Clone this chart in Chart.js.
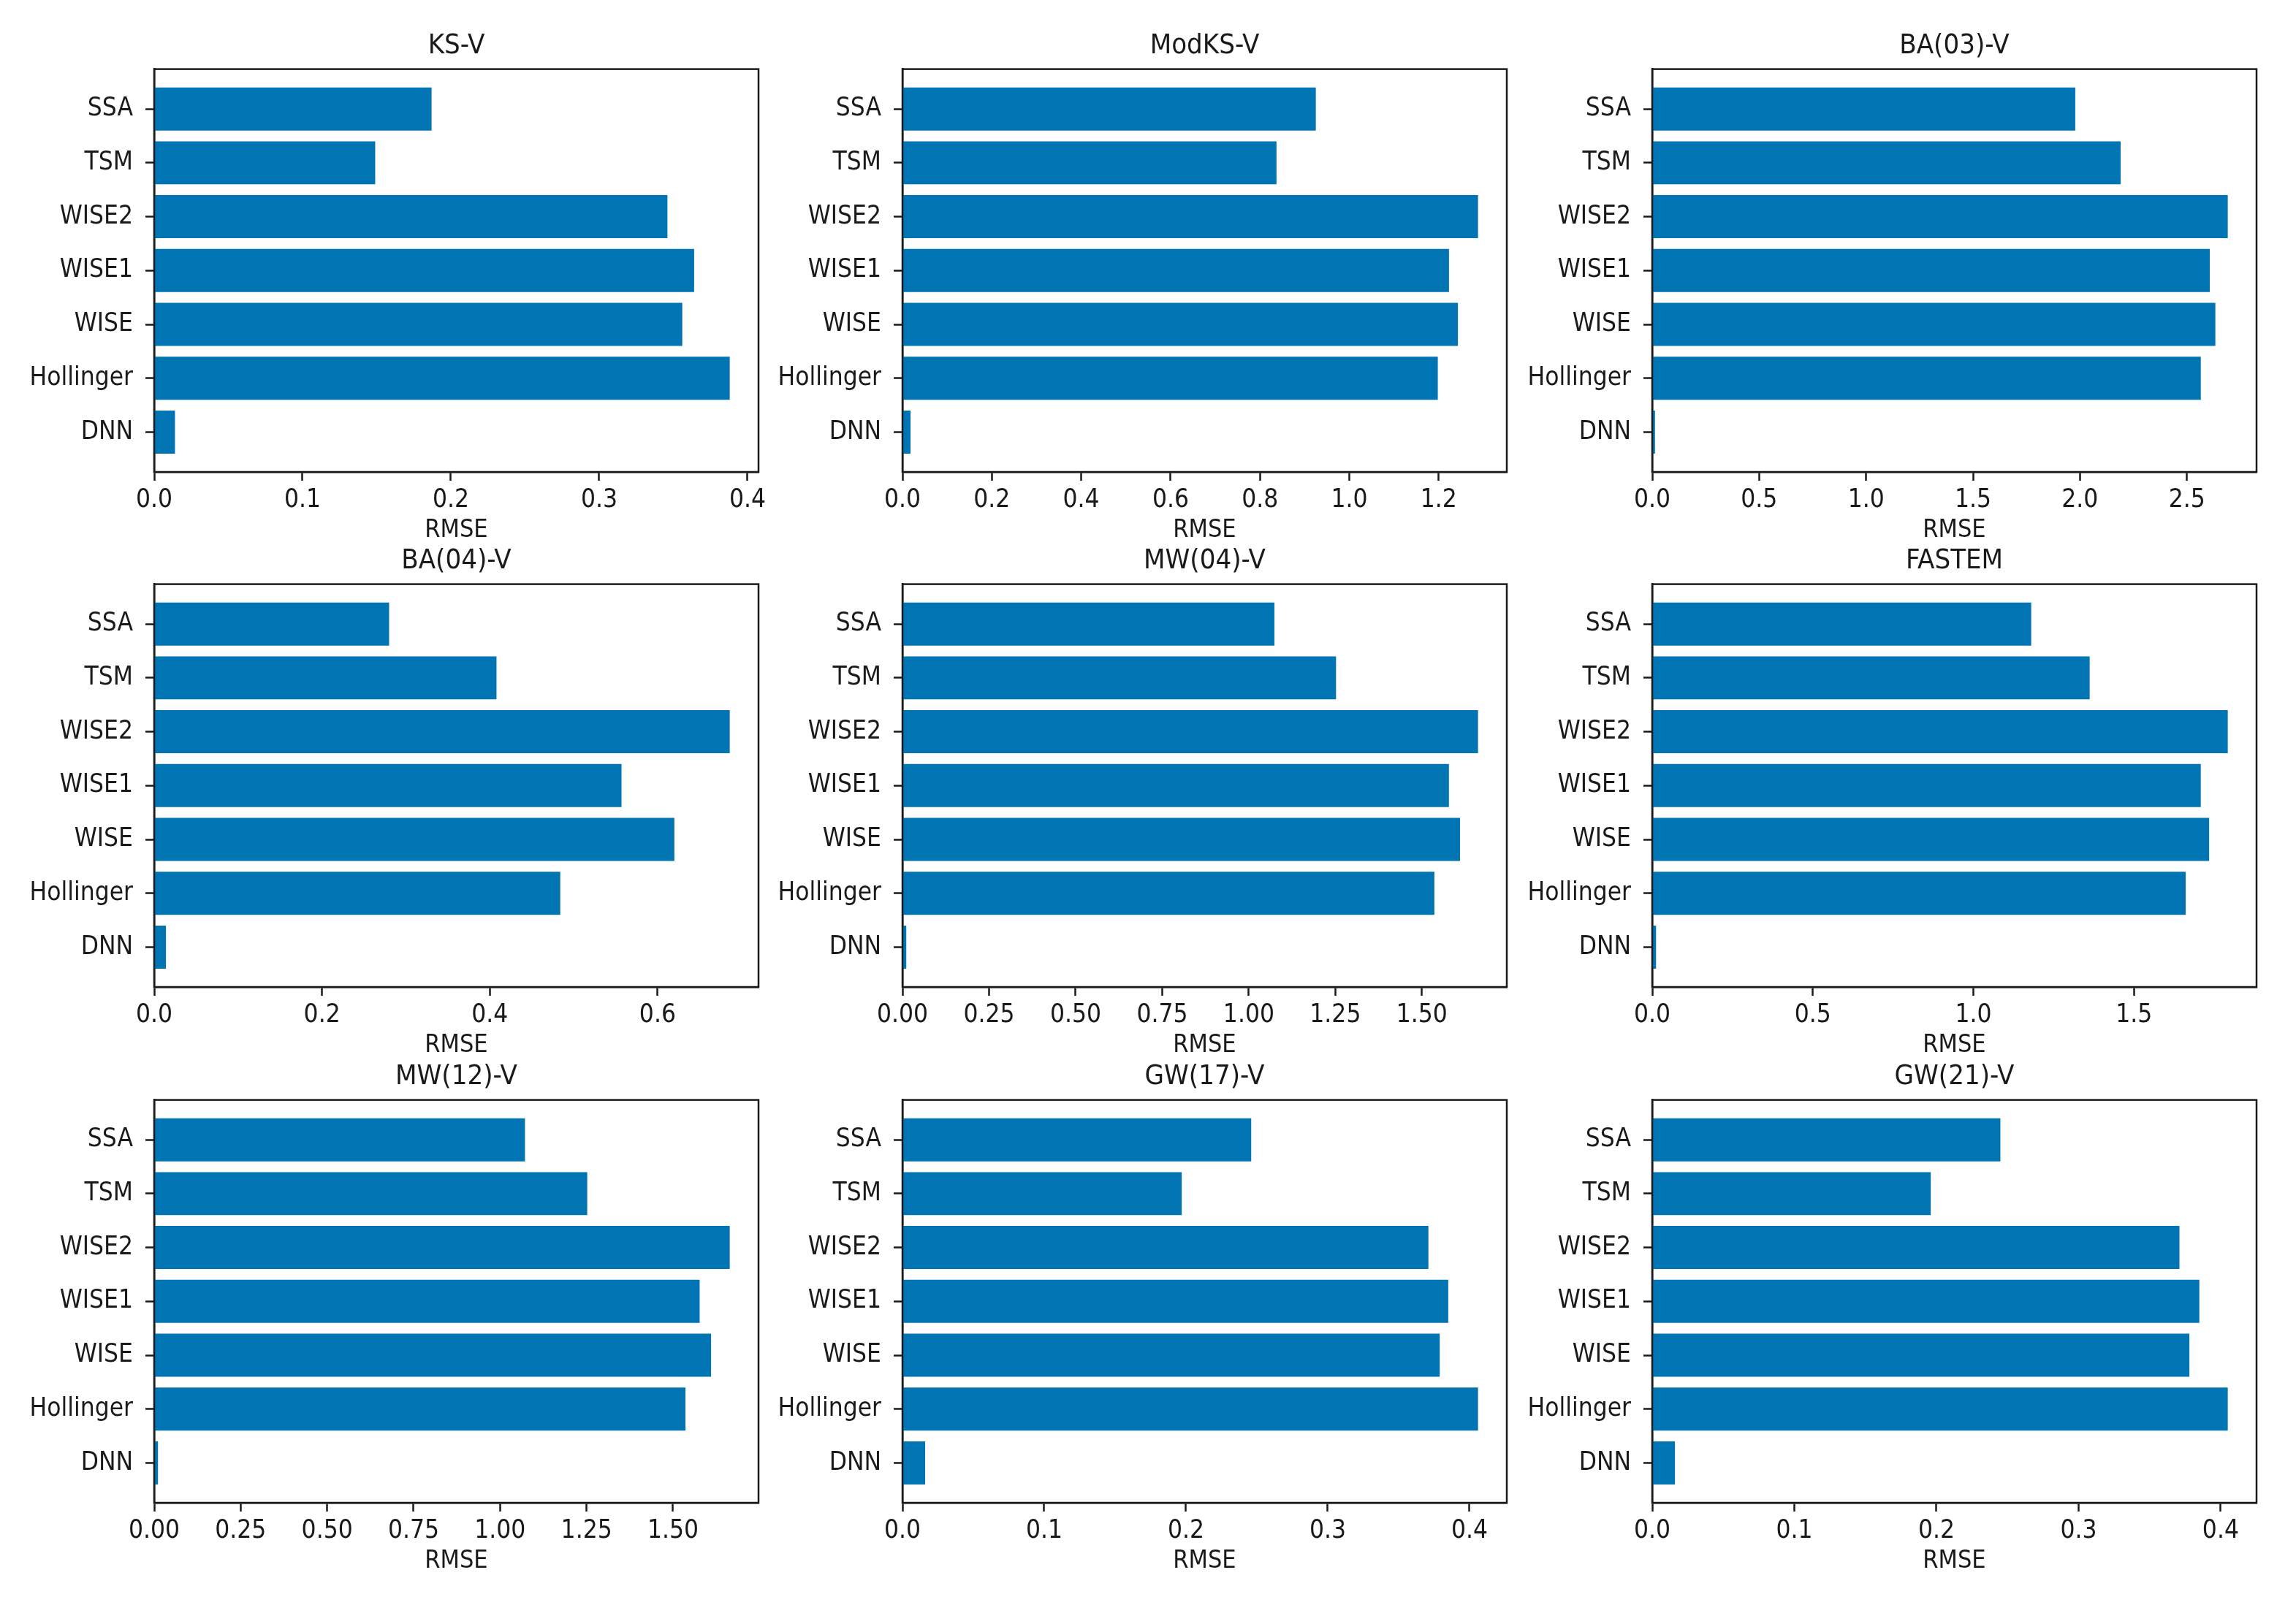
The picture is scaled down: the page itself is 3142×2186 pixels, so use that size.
<!DOCTYPE html>
<html>
<head>
<meta charset="utf-8">
<script src="https://cdn.jsdelivr.net/npm/chart.js@4.4.1/dist/chart.umd.min.js"></script>
<style>
    body { margin: 0; background: #fff; width: 3142px; height: 2186px; position: relative; overflow: hidden; }
    .panel { position: absolute; }
</style>
</head>
<body>
<div id="grid"></div>
<script>
// Categories, bottom (index 0) to top, same order as matplotlib barh
const methods = ['DNN', 'Hollinger', 'WISE', 'WISE1', 'WISE2', 'TSM', 'SSA']

const titles = ['KS-V', 'ModKS-V', 'BA(03)-V', 'BA(04)-V', 'MW(04)-V', 'FASTEM', 'MW(12)-V', 'GW(17)-V', 'GW(21)-V']

// RMSE per method (DNN, Hollinger, WISE, WISE1, WISE2, TSM, SSA)
const ksV    = [0.014, 0.388, 0.356, 0.364, 0.346, 0.149, 0.187]
const modksV = [0.018, 1.198, 1.243, 1.223, 1.288, 0.837, 0.925]
const ba03V  = [0.013, 2.565, 2.633, 2.607, 2.691, 2.190, 1.978]
const ba04V  = [0.014, 0.484, 0.620, 0.557, 0.686, 0.408, 0.280]
const mw04V  = [0.011, 1.536, 1.610, 1.578, 1.662, 1.252, 1.074]
const fastem = [0.012, 1.661, 1.734, 1.708, 1.792, 1.362, 1.180]
const mw12V  = [0.011, 1.536, 1.610, 1.577, 1.664, 1.252, 1.072]
const gw17V  = [0.016, 0.406, 0.379, 0.385, 0.371, 0.197, 0.246]
const gw21V  = [0.016, 0.405, 0.378, 0.385, 0.371, 0.196, 0.245]

const series = [ksV, modksV, ba03V, ba04V, mw04V, fastem, mw12V, gw17V, gw21V]

// x tick step and decimals of each panel
const tickSteps = [0.1, 0.2, 0.5, 0.2, 0.25, 0.5, 0.25, 0.1, 0.1]
const tickDecimals = [1, 1, 1, 1, 2, 1, 2, 1, 1]

// layout (px)
const colLeft = [211, 1235, 2261]
const rowTop = [95, 800, 1506]
const plotW = 827
const plotH = 551
const yAxisW = 210
const xAxisH = 110
const padRight = 40
const titleBlock = 14 + 38 * 1.2 + 9

const barColor = '#0174b4'
const inkColor = '#1a1a1a'
const fontFamily = '"Liberation Sans Narrow", "DejaVu Sans Condensed", "Noto Sans CJK SC", sans-serif'

// draws the full box round the plot, like matplotlib spines
const framePlugin = {
    id: 'frame',
    afterDatasetsDraw(chart) {
        const a = chart.chartArea
        const ctx = chart.ctx
        ctx.save()
        ctx.strokeStyle = inkColor
        ctx.lineWidth = 2.5
        ctx.strokeRect(a.left, a.top, a.right - a.left, a.bottom - a.top)
        ctx.restore()
    }
}

const grid = document.getElementById('grid')

series.forEach((vals, k) => {
    const col = k % 3
    const row = Math.floor(k / 3)

    const div = document.createElement('div')
    div.className = 'panel'
    div.style.left = (colLeft[col] - yAxisW) + 'px'
    div.style.top = (rowTop[row] - titleBlock) + 'px'
    const cv = document.createElement('canvas')
    cv.width = yAxisW + plotW + padRight
    cv.height = Math.round(titleBlock + plotH + xAxisH)
    cv.style.width = cv.width + 'px'
    cv.style.height = cv.height + 'px'
    div.appendChild(cv)
    grid.appendChild(div)

    // matplotlib autoscale: 5% margin
    const xMax = Math.max(...vals) * 1.05
    const step = tickSteps[k]
    const dec = tickDecimals[k]

    new Chart(cv.getContext('2d'), {
        type: 'bar',
        data: {
            datasets: [{
                data: vals.map((v, i) => ({ x: v, y: i })),
                backgroundColor: barColor,
                borderWidth: 0,
                categoryPercentage: 1,
                barPercentage: 0.8
            }]
        },
        options: {
            indexAxis: 'y',
            responsive: false,
            devicePixelRatio: 1,
            animation: false,
            layout: { padding: { left: 0, right: padRight, top: 0, bottom: 0 }, autoPadding: false },
            plugins: {
                legend: { display: false },
                tooltip: { enabled: false },
                title: {
                    display: true,
                    text: titles[k],
                    fullSize: false,
                    color: inkColor,
                    font: { family: fontFamily, size: 38, weight: 'normal', lineHeight: 1.2 },
                    padding: { top: 14, bottom: 9 }
                }
            },
            scales: {
                x: {
                    type: 'linear',
                    min: 0,
                    max: xMax,
                    afterFit: s => { s.height = xAxisH },
                    ticks: {
                        stepSize: step,
                        includeBounds: false,
                        color: inkColor,
                        padding: 6,
                        maxRotation: 0,
                        font: { family: fontFamily, size: 35 },
                        callback: v => v.toFixed(dec)
                    },
                    grid: { drawOnChartArea: false, tickLength: 12, tickWidth: 2.5, tickColor: inkColor },
                    border: { display: true, color: inkColor, width: 2.5 },
                    title: {
                        display: true,
                        text: 'RMSE',
                        color: inkColor,
                        font: { family: fontFamily, size: 34, lineHeight: 1.2 },
                        padding: { top: 0, bottom: 9 }
                    }
                },
                y: {
                    type: 'linear',
                    min: -0.74,
                    max: 6.74,
                    offset: false,
                    afterFit: s => { s.width = yAxisW },
                    afterBuildTicks: s => { s.ticks = methods.map((m, i) => ({ value: i })) },
                    ticks: {
                        color: inkColor,
                        padding: 17,
                        font: { family: fontFamily, size: 35 },
                        callback: v => methods[v]
                    },
                    grid: { offset: false, drawOnChartArea: false, tickLength: 12, tickWidth: 2.5, tickColor: inkColor },
                    border: { display: true, color: inkColor, width: 2.5 }
                }
            }
        },
        plugins: [framePlugin]
    })
})
</script>
</body>
</html>
